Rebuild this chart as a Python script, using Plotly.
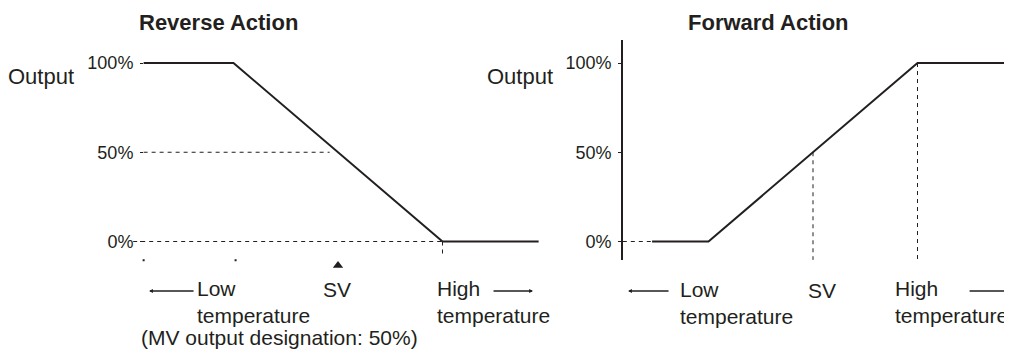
import plotly.graph_objects as go

# output axis
output_ticks = [0, 50, 100]
output_ticktext = ['0%', '50%', '100%']

# temperature relative to SV (proportional band = 100 units)
rev_temp = [-93, -50, 50, 96]
rev_out = [100, 100, 0, 0]
fwd_temp = [-77, -50, 50, 94]
fwd_out = [0, 0, 100, 100]

sv_temp = 0
rev_half_temp = [-93, -4]      # 50% dashed guide (reverse)
rev_zero_temp = [-98, 50]      # 0% dashed guide (reverse)
rev_marks = [-93, -49]         # little marks under the axis (reverse)
fwd_zero_temp = [-91, -77]     # 0% dashed guide (forward)

# the page body adds an 8px margin, so the figure is drawn 8px in
OFF = 8
W, H = 1012 - OFF, 351 - OFF
TXT = '#231f20'
FONT = 'Liberation Sans'


def px(x):
    return (x - OFF) / W


def py(y):
    return 1 - (y - OFF) / H


fig = go.Figure()

dash_line = dict(color=TXT, width=1, dash='4px,4px')

# Reverse action
fig.add_trace(go.Scatter(x=rev_half_temp, y=[50, 50], mode='lines', line=dash_line,
                         xaxis='x', yaxis='y', showlegend=False))
fig.add_trace(go.Scatter(x=rev_zero_temp, y=[0, 0], mode='lines', line=dash_line,
                         xaxis='x', yaxis='y', showlegend=False))
fig.add_trace(go.Scatter(x=[rev_temp[2], rev_temp[2]], y=[0, -8], mode='lines', line=dash_line,
                         xaxis='x', yaxis='y', showlegend=False))
fig.add_trace(go.Scatter(x=rev_temp, y=rev_out, mode='lines',
                         line=dict(color=TXT, width=2),
                         xaxis='x', yaxis='y', showlegend=False))
fig.add_trace(go.Scatter(x=rev_marks, y=[-10.5, -10.5], mode='markers',
                         marker=dict(symbol='square', size=2, color=TXT),
                         xaxis='x', yaxis='y', showlegend=False))
fig.add_trace(go.Scatter(x=[sv_temp], y=[-13.5], mode='markers',
                         marker=dict(symbol='triangle-up', size=9, color=TXT),
                         xaxis='x', yaxis='y', showlegend=False))

# Forward action
fig.add_trace(go.Scatter(x=fwd_zero_temp, y=[0, 0], mode='lines', line=dash_line,
                         xaxis='x2', yaxis='y2', showlegend=False))
fig.add_trace(go.Scatter(x=[sv_temp, sv_temp], y=[50, -10.3], mode='lines', line=dash_line,
                         xaxis='x2', yaxis='y2', showlegend=False))
fig.add_trace(go.Scatter(x=[fwd_temp[2], fwd_temp[2]], y=[100, -10.3], mode='lines', line=dash_line,
                         xaxis='x2', yaxis='y2', showlegend=False))
fig.add_trace(go.Scatter(x=fwd_temp, y=fwd_out, mode='lines',
                         line=dict(color=TXT, width=2),
                         xaxis='x2', yaxis='y2', showlegend=False))
fig.add_trace(go.Scatter(x=[sv_temp], y=[-13.5], mode='markers', cliponaxis=False,
                         marker=dict(symbol='triangle-up', size=9, color=TXT),
                         xaxis='x2', yaxis='y2', showlegend=False))

tick_font = dict(family=FONT, size=18, color=TXT)

fig.update_layout(
    width=W, height=H,
    margin=dict(l=0, r=0, t=0, b=0),
    paper_bgcolor='white',
    plot_bgcolor='rgba(0,0,0,0)',
    font=dict(family=FONT, size=22, color=TXT),
    xaxis=dict(domain=[0, 1], range=[(OFF - 338) / 2.09, (1012 - 338) / 2.09],
               visible=False, anchor='y'),
    yaxis=dict(domain=[0, 1], range=[(241.5 - 351) / 1.785, (241.5 - OFF) / 1.785],
               anchor='free', position=px(143),
               showgrid=False, zeroline=False, showline=False,
               tickvals=output_ticks, ticktext=output_ticktext,
               ticks='outside', ticklen=3, tickcolor=TXT, tickfont=tick_font,
               ticklabelstandoff=3),
    xaxis2=dict(domain=[0, 1], range=[(OFF - 813) / 2.09, (1012 - 813) / 2.09],
                visible=False, anchor='y2'),
    yaxis2=dict(domain=[py(260), py(40)], range=[(241.5 - 260) / 1.785, (241.5 - 40) / 1.785],
                anchor='free', position=px(622),
                showgrid=False, zeroline=False, showline=True, linecolor=TXT, linewidth=1.6,
                tickvals=output_ticks, ticktext=output_ticktext,
                ticks='outside', ticklen=3, tickcolor=TXT, tickfont=tick_font,
                ticklabelstandoff=3),
)


def label(text, x, y, xanchor='center', bold=False, size=None):
    fig.add_annotation(text=f'<b>{text}</b>' if bold else text,
                       x=px(x), y=py(y), xref='paper', yref='paper',
                       xanchor=xanchor, yanchor='middle', align='left',
                       showarrow=False, borderpad=0,
                       font=dict(size=size) if size else None)


label('Reverse Action', 218, 22, bold=True)
label('Forward Action', 768, 22, bold=True)
label('Output', 41, 76)
label('Output', 520, 76)

# bottom labels, reverse
label('Low<br>temperature', 196, 302, 'left', size=21)
label('SV', 337, 289, size=21)
label('High<br>temperature', 436, 302, 'left', size=21)
label('(MV output designation: 50%)', 279, 337, size=21)

# bottom labels, forward
label('Low<br>temperature', 679, 303, 'left', size=21)
label('SV', 822, 290, size=21)
label('High<br>temperature', 894, 302, 'left', size=21)


def arrow(x_head, x_tail, xref, y):
    fig.add_annotation(x=x_head, ax=x_tail, xref=xref, axref=xref,
                       y=py(y), ay=0, yref='paper', text='',
                       showarrow=True, arrowhead=2, arrowsize=0.6, arrowwidth=1.3,
                       arrowcolor=TXT)


arrow(-90.4, -68.4, 'x', 291)
arrow(93.3, 73.7, 'x', 291)
arrow(-88.5, -68.4, 'x2', 291)
arrow(95.0, 74.2, 'x2', 291)

fig.write_html("out.html")
